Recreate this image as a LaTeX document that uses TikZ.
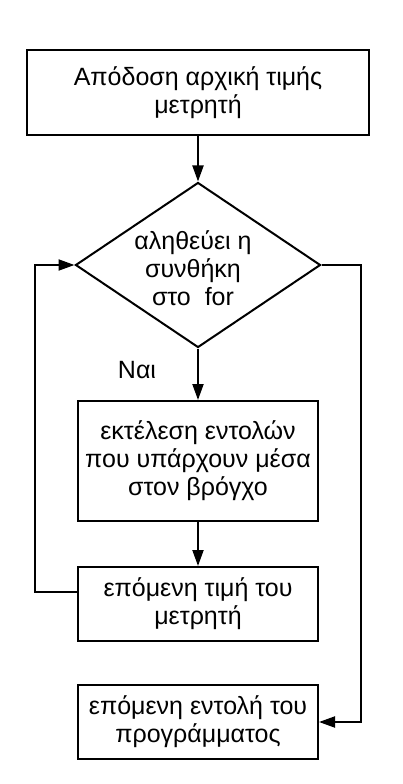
\documentclass[tikz,border=0pt]{standalone}
\usepackage{fontspec}
\setmainfont{Liberation Sans}
\usetikzlibrary{shapes.geometric,arrows.meta}
\begin{document}
\begin{tikzpicture}[
        x=1pt,y=-1pt,
        line width=2pt,
        >={Triangle[length=16pt,width=11pt]},
        bsty/.style={draw,rectangle,align=center,inner sep=0pt,font=\fontsize{25}{28}\selectfont},
        dsty/.style={draw,diamond,inner sep=0pt,minimum width=245pt,minimum height=165pt},
        lsty/.style={font=\fontsize{25}{28}\selectfont},
        ]
    \useasboundingbox (0,0) rectangle (402,784);

    \node (init) at (198,92.5) [bsty,minimum width=342pt,minimum height=85pt] {Απόδοση αρχική τιμής\\μετρητή};
    \node (cond) at (198,265) [dsty,label={[lsty,align=center,xshift=-5pt,yshift=-3pt]center:αληθεύει η\\συνθήκη\\ στο\ \ for}] {};
    \node (body) at (198,461) [bsty,minimum width=240pt,minimum height=120pt] {εκτέλεση εντολών\\που υπάρχουν μέσα\\στον βρόγχο};
    \node (next) at (198,604) [bsty,minimum width=240pt,minimum height=74pt] {επόμενη τιμή του\\μετρητή};
    \node (after) at (198,722) [bsty,minimum width=240pt,minimum height=74pt] {επόμενη εντολή του\\προγράμματος};
    \node (yes) at (137,370) [lsty] {Ναι};

    \coordinate (loop) at (35,592);
    \coordinate (exit) at (361,722);

    \draw[->] (init) -- (cond);
    \draw[->] (cond) -- (body);
    \draw[->] (body) -- (next);
    \draw[->] (next.west |- loop) -- (loop) |- (cond.west);
    \draw[->] (cond.east) -| (exit) -- (after.east);

\end{tikzpicture}
\end{document}
